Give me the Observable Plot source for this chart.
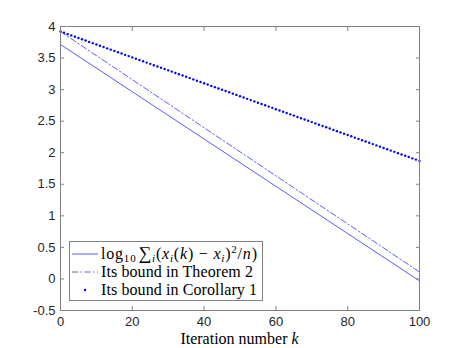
<!DOCTYPE html>
<html>
<head>
<meta charset="utf-8">
<script src="https://cdn.jsdelivr.net/npm/d3@7"></script>
<script src="https://cdn.jsdelivr.net/npm/@observablehq/plot@0.6"></script>
<style>
  html, body { margin: 0; padding: 0; background: #fff; }
</style>
</head>
<body>
<div id="chart"></div>
<script>
// Iterations for the two straight lines (read at these k)
const lineK = [0, 20, 40, 60, 80, 100];
const actualLog = [3.715, 2.966, 2.217, 1.468, 0.719, -0.030];
const boundThm2 = [3.92, 3.158, 2.396, 1.634, 0.872, 0.110];
// Corollary 1 bound, one dot per iteration k = 0..100
const boundCor1 = [3.920,3.900,3.879,3.859,3.838,3.818,3.797,3.777,3.756,3.736,
3.715,3.695,3.674,3.654,3.633,3.613,3.592,3.572,3.551,3.531,
3.510,3.490,3.469,3.449,3.428,3.408,3.387,3.367,3.346,3.326,
3.305,3.285,3.264,3.244,3.223,3.203,3.182,3.162,3.141,3.121,
3.100,3.080,3.059,3.039,3.018,2.998,2.977,2.957,2.936,2.916,
2.895,2.875,2.854,2.834,2.813,2.793,2.772,2.752,2.731,2.711,
2.690,2.670,2.649,2.629,2.608,2.588,2.567,2.547,2.526,2.506,
2.485,2.465,2.444,2.424,2.403,2.383,2.362,2.342,2.321,2.301,
2.280,2.260,2.239,2.219,2.198,2.178,2.157,2.137,2.116,2.096,
2.075,2.055,2.034,2.014,1.993,1.973,1.952,1.932,1.911,1.891,1.870];
const xTicks = [0, 20, 40, 60, 80, 100];
const yTicks = [-0.5, 0, 0.5, 1, 1.5, 2, 2.5, 3, 3.5, 4];
const legendLabels = ["", "Its bound in Theorem 2", "Its bound in Corollary 1"];

const solidData = lineK.map((k, i) => ({k, v: actualLog[i]}));
const thmData = lineK.map((k, i) => ({k, v: boundThm2[i]}));
const corData = boundCor1.map((v, k) => ({k, v}));

const axisColor = "#808080";
const textColor = "#262626";
const lineColor = "#4a4aff";

const plot = Plot.plot({
  width: 463,
  height: 348,
  marginLeft: 60,
  marginRight: 44,
  marginTop: 26,
  marginBottom: 38,
  style: {fontFamily: "'Liberation Sans', Arial, sans-serif", fontSize: "13px", color: textColor, background: "#fff"},
  x: {domain: [0, 100], label: null},
  y: {domain: [-0.5, 4], label: null},
  marks: [
    Plot.line(solidData, {x: "k", y: "v", stroke: lineColor, strokeWidth: 0.9}),
    Plot.line(thmData, {x: "k", y: "v", stroke: lineColor, strokeWidth: 0.9, strokeDasharray: "6,2.5,1.5,2.5"}),
    Plot.dot(corData, {x: "k", y: "v", r: 1.2, fill: "#0000ff", stroke: null}),
    Plot.frame({stroke: axisColor, strokeWidth: 1}),
    Plot.axisX(xTicks, {tickSize: -4, text: null, stroke: axisColor}),
    Plot.axisX(xTicks, {anchor: "top", tickSize: -4, text: null, stroke: axisColor, label: null}),
    Plot.axisY(yTicks, {tickSize: -4, text: null, stroke: axisColor}),
    Plot.axisY(yTicks, {anchor: "right", tickSize: -4, text: null, stroke: axisColor, label: null}),
    Plot.axisX(xTicks, {tickSize: 0, tickPadding: 6, fill: textColor, fontSize: 13, label: null}),
    Plot.axisY(yTicks, {tickSize: 0, tickPadding: 5, fill: textColor, fontSize: 13, label: null, tickFormat: d => String(d)})
  ]
});

const svg = d3.select(plot);
const serif = "'Liberation Serif', 'Times New Roman', serif";
const fs = 16;

// x-axis label
const xl = svg.append("text")
  .attr("x", 239.5).attr("y", 344)
  .attr("text-anchor", "middle")
  .attr("font-family", serif).attr("font-size", fs).attr("fill", "#000");
xl.append("tspan").text("Iteration number ");
xl.append("tspan").attr("font-style", "italic").text("k");

// legend
const lg = svg.append("g").attr("text-anchor", "start");
lg.append("rect").attr("x", 69.5).attr("y", 241.5).attr("width", 193).attr("height", 59)
  .attr("fill", "#fff").attr("stroke", axisColor).attr("stroke-width", 1);
const rows = [254, 272, 290];
lg.append("line").attr("x1", 72).attr("x2", 98).attr("y1", rows[0]).attr("y2", rows[0])
  .attr("stroke", lineColor).attr("stroke-width", 0.9);
lg.append("line").attr("x1", 72).attr("x2", 98).attr("y1", rows[1]).attr("y2", rows[1])
  .attr("stroke", lineColor).attr("stroke-width", 0.9).attr("stroke-dasharray", "6,2.5,1.5,2.5");
lg.append("circle").attr("cx", 85).attr("cy", rows[2]).attr("r", 1.2).attr("fill", "#0000ff");

const t0 = lg.append("text").attr("x", 101).attr("y", rows[0] + 5)
  .attr("text-anchor", "start")
  .attr("textLength", 156).attr("lengthAdjust", "spacing")
  .attr("font-family", serif).attr("font-size", fs).attr("fill", "#000");
t0.append("tspan").text("log");
t0.append("tspan").attr("font-size", 11).attr("dy", 3).text("10");
t0.append("tspan").attr("dy", -3).attr("dx", 2).attr("font-size", 18).text("\u2211");
t0.append("tspan").attr("font-size", 11).attr("font-style", "italic").attr("dy", 3).text("i");
t0.append("tspan").attr("dy", -3).text("(");
t0.append("tspan").attr("font-style", "italic").text("x");
t0.append("tspan").attr("font-size", 11).attr("font-style", "italic").attr("dy", 3).text("i");
t0.append("tspan").attr("dy", -3).text("(");
t0.append("tspan").attr("font-style", "italic").text("k");
t0.append("tspan").text(") \u2212 ");
t0.append("tspan").attr("font-style", "italic").text("x");
t0.append("tspan").attr("font-size", 11).attr("font-style", "italic").attr("dy", 3).text("i");
t0.append("tspan").attr("dy", -3).text(")");
t0.append("tspan").attr("font-size", 11).attr("dy", -6).text("2");
t0.append("tspan").attr("dy", 6).text("/");
t0.append("tspan").attr("font-style", "italic").text("n");
t0.append("tspan").text(")");

lg.append("text").attr("x", 101).attr("y", rows[1] + 5).attr("text-anchor", "start")
  .attr("textLength", 152).attr("lengthAdjust", "spacing")
  .attr("font-family", serif).attr("font-size", fs).attr("fill", "#000").text(legendLabels[1]);
lg.append("text").attr("x", 101).attr("y", rows[2] + 5).attr("text-anchor", "start")
  .attr("textLength", 156).attr("lengthAdjust", "spacing")
  .attr("font-family", serif).attr("font-size", fs).attr("fill", "#000").text(legendLabels[2]);

document.getElementById("chart").appendChild(plot);
</script>
</body>
</html>
